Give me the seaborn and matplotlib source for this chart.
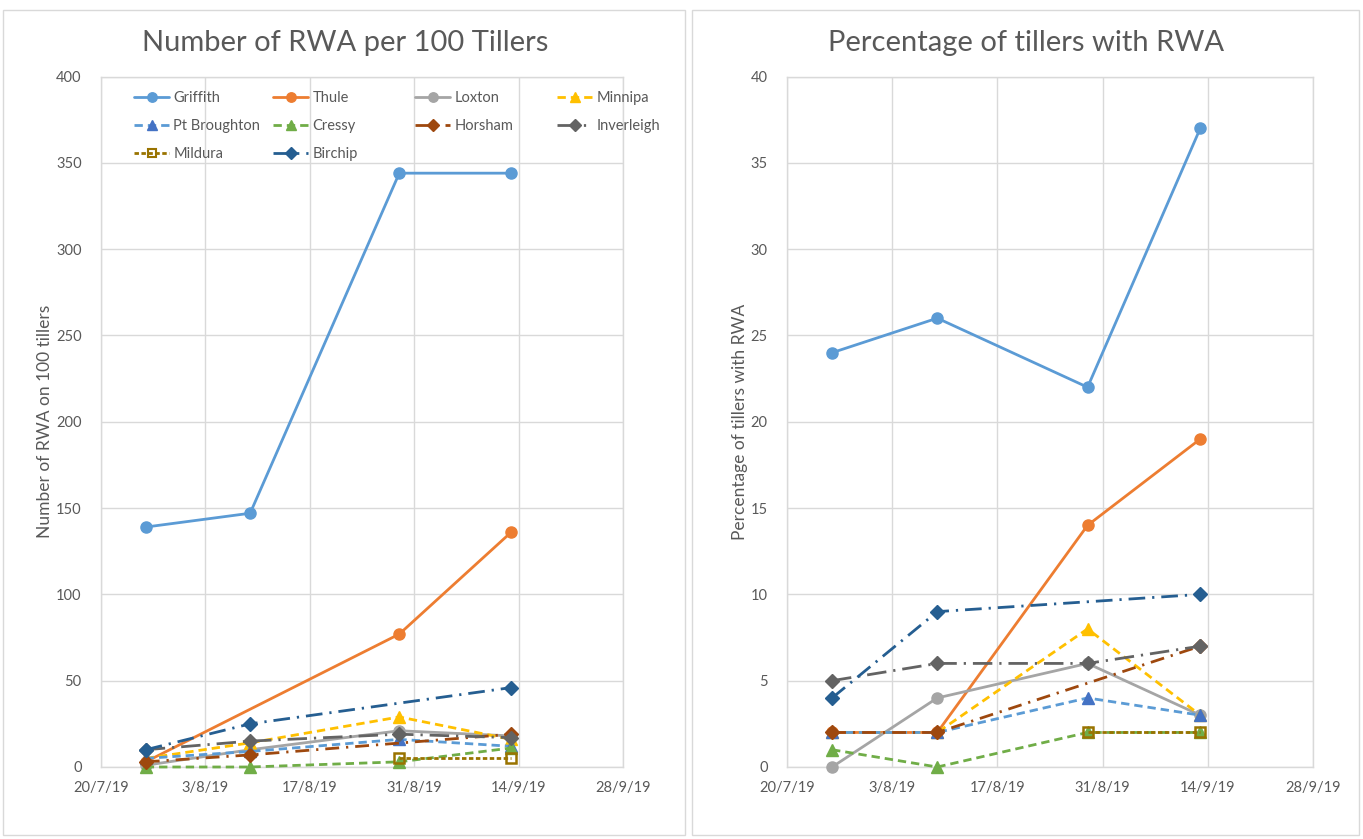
import numpy as np
import pandas as pd
import matplotlib
matplotlib.use("Agg")
import matplotlib.pyplot as plt
from matplotlib.patches import Rectangle
from matplotlib.lines import Line2D
import seaborn as sns

nan = np.nan

# ---------------- data ----------------
sample_dates = ["2019-07-26", "2019-08-09", "2019-08-29", "2019-09-13"]
sites = ["Griffith", "Thule", "Loxton", "Minnipa", "Pt Broughton",
         "Cressy", "Horsham", "Inverleigh", "Mildura", "Birchip"]

# Number of RWA per 100 tillers
rwa_griffith = [139, 147, 344, 344]
rwa_thule = [3, nan, 77, 136]
rwa_loxton = [1, 10, 21, 18]
rwa_minnipa = [5, 14, 29, 16]
rwa_pt_broughton = [5, 9, 16, 12]
rwa_cressy = [0, 0, 3, 11]
rwa_horsham = [3, 7, nan, 19]
rwa_inverleigh = [10, 15, 19, 17]
rwa_mildura = [nan, nan, 5, 5]
rwa_birchip = [10, 25, nan, 46]

# Percentage of tillers with RWA
pct_griffith = [24, 26, 22, 37]
pct_thule = [2, 2, 14, 19]
pct_loxton = [0, 4, 6, 3]
pct_minnipa = [2, 2, 8, 3]
pct_pt_broughton = [2, 2, 4, 3]
pct_cressy = [1, 0, 2, 2]
pct_horsham = [2, 2, nan, 7]
pct_inverleigh = [5, 6, 6, 7]
pct_mildura = [nan, nan, 2, 2]
pct_birchip = [4, 9, nan, 10]

x_tick_dates = ["2019-07-20", "2019-08-03", "2019-08-17",
                "2019-08-31", "2019-09-14", "2019-09-28"]
x_tick_labels = ["20/7/19", "3/8/19", "17/8/19", "31/8/19", "14/9/19", "28/9/19"]
rwa_y_ticks = [0, 50, 100, 150, 200, 250, 300, 350, 400]
pct_y_ticks = [0, 5, 10, 15, 20, 25, 30, 35, 40]

left_title = "Number of RWA per 100 Tillers"
right_title = "Percentage of tillers with RWA"
left_ylabel = "Number of RWA on 100 tillers"
right_ylabel = "Percentage of tillers with RWA"

rwa_values = [rwa_griffith, rwa_thule, rwa_loxton, rwa_minnipa, rwa_pt_broughton,
              rwa_cressy, rwa_horsham, rwa_inverleigh, rwa_mildura, rwa_birchip]
pct_values = [pct_griffith, pct_thule, pct_loxton, pct_minnipa, pct_pt_broughton,
              pct_cressy, pct_horsham, pct_inverleigh, pct_mildura, pct_birchip]

# ---------------- styles ----------------
styles = {
    "Griffith": dict(color="#5B9BD5", ls="-", marker="o", ms=8, mfc="#5B9BD5", mec="#5B9BD5"),
    "Thule": dict(color="#ED7D31", ls="-", marker="o", ms=8, mfc="#ED7D31", mec="#ED7D31"),
    "Loxton": dict(color="#A5A5A5", ls="-", marker="o", ms=8, mfc="#A5A5A5", mec="#A5A5A5"),
    "Minnipa": dict(color="#FFC000", ls=(0, (3, 1.8)), marker="^", ms=9, mfc="#FFC000", mec="#FFC000"),
    "Pt Broughton": dict(color="#5B9BD5", ls=(0, (3, 1.8)), marker="^", ms=9, mfc="#4472C4", mec="#4472C4"),
    "Cressy": dict(color="#70AD47", ls=(0, (3, 1.8)), marker="^", ms=9, mfc="#70AD47", mec="#70AD47"),
    "Horsham": dict(color="#9E480E", ls=(0, (5, 2.5, 0.8, 2.5)), marker="D", ms=7, mfc="#9E480E", mec="#9E480E"),
    "Inverleigh": dict(color="#636363", ls=(0, (7, 2.5, 0.8, 2.5)), marker="D", ms=7, mfc="#636363", mec="#636363"),
    "Mildura": dict(color="#997300", ls=(0, (1.6, 0.9)), marker="s", ms=7, mfc="none", mec="#997300"),
    "Birchip": dict(color="#255E91", ls=(0, (6, 2.5, 0.8, 2.5)), marker="D", ms=7, mfc="#255E91", mec="#255E91"),
}

TEXT = "#595959"
GRID = "#D9D9D9"

sns.set_theme(style="white")
plt.rcParams["font.family"] = ["Lato", "DejaVu Sans"]


def long_df(values):
    rows = []
    for site, vals in zip(sites, values):
        for d, v in zip(sample_dates, vals):
            rows.append((site, pd.Timestamp(d), v))
    return pd.DataFrame(rows, columns=["site", "date", "value"]).dropna()


W, H = 1363, 839
fig = plt.figure(figsize=(W / 100, H / 100), dpi=100)


def px_axes(x0, y0, x1, y1):
    return fig.add_axes([x0 / W, 1 - y1 / H, (x1 - x0) / W, (y1 - y0) / H])


# chart frames
for (fx0, fx1) in ((3, 685), (692, 1359)):
    fig.patches.append(Rectangle((fx0 / W, 1 - 835 / H), (fx1 - fx0) / W, (835 - 10) / H,
                                 transform=fig.transFigure, fill=False, ec=GRID, lw=1))

ax1 = px_axes(101, 76.5, 623, 767)
ax2 = px_axes(787, 76.5, 1313, 767)

for ax, values, yticks, ylabel, lab_x in (
        (ax1, rwa_values, rwa_y_ticks, left_ylabel, -0.092),
        (ax2, pct_values, pct_y_ticks, right_ylabel, -0.074)):
    df = long_df(values)
    for i, site in enumerate(sites):
        sub = df[df.site == site]
        st = styles[site]
        sns.lineplot(data=sub, x="date", y="value", ax=ax, color=st["color"],
                     linestyle=st["ls"], linewidth=2, marker=st["marker"],
                     markersize=st["ms"], markerfacecolor=st["mfc"],
                     markeredgecolor=st["mec"],
                     markeredgewidth=1.8 if site == "Mildura" else 1,
                     errorbar=None, legend=False, zorder=3 + i, clip_on=False)
    xt = pd.to_datetime(x_tick_dates)
    ax.set_xticks(xt)
    ax.set_xticklabels(x_tick_labels)
    ax.set_xlim(xt[0], xt[-1])
    ax.set_yticks(yticks)
    ax.set_ylim(yticks[0], yticks[-1])
    ax.grid(True, color=GRID, lw=1)
    ax.set_axisbelow(True)
    for s in ax.spines.values():
        s.set_color(GRID)
        s.set_linewidth(1)
    ax.tick_params(axis="both", length=0, labelsize=10.5, colors=TEXT)
    ax.tick_params(axis="x", pad=10)
    ax.tick_params(axis="y", pad=14)
    ax.set_xlabel("")
    ax.set_ylabel(ylabel, fontsize=12.5, color=TEXT)
    ax.yaxis.set_label_coords(lab_x, 0.5)

fig.text(345 / W, 1 - 43 / H, left_title, ha="center", va="center", fontsize=21, color=TEXT)
fig.text(1026 / W, 1 - 43 / H, right_title, ha="center", va="center", fontsize=21, color=TEXT)

# legend in left chart, four columns laid out row by row
columns = [["Griffith", "Pt Broughton", "Mildura"],
           ["Thule", "Cressy", "Birchip"],
           ["Loxton", "Horsham"],
           ["Minnipa", "Inverleigh"]]
col_x_px = [134, 273, 415, 557]
legends = []
for names, cx in zip(columns, col_x_px):
    handles = []
    for n in names:
        st = styles[n]
        handles.append(Line2D([], [], color=st["color"], linestyle=st["ls"], lw=2,
                              marker=st["marker"], markersize=st["ms"] * 0.85,
                              markerfacecolor=st["mfc"], markeredgecolor=st["mec"],
                              markeredgewidth=1.5 if n == "Mildura" else 1))
    leg = ax1.legend(handles, names, loc="upper left",
                     bbox_to_anchor=((cx - 101) / 522, (767 - 91) / 690.5),
                     frameon=False, borderpad=0, borderaxespad=0, fontsize=10.5,
                     labelcolor=TEXT, handlelength=2.4, handletextpad=0.3,
                     labelspacing=0.95)
    legends.append(leg)
for leg in legends[:-1]:
    ax1.add_artist(leg)

fig.savefig("out.png", dpi=100, facecolor="white")
